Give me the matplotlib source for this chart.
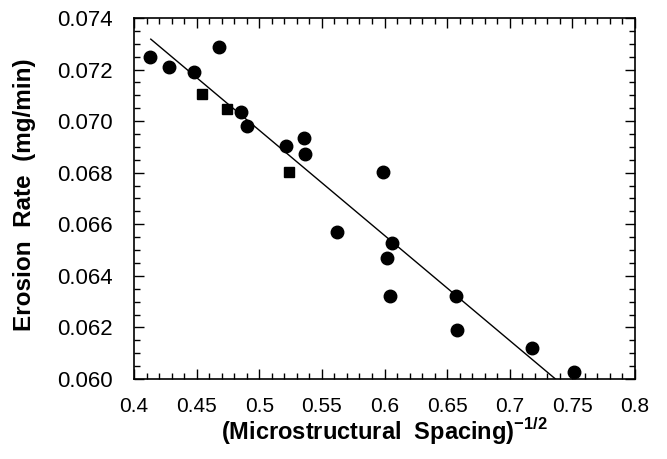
import matplotlib
matplotlib.use("Agg")
import matplotlib.pyplot as plt
from matplotlib.ticker import MultipleLocator, FixedFormatter, FixedLocator

plt.rcParams['font.family'] = ['Liberation Sans', 'DejaVu Sans']
plt.rcParams['mathtext.fontset'] = 'custom'
plt.rcParams['mathtext.rm'] = 'Liberation Sans'
plt.rcParams['mathtext.bf'] = 'Liberation Sans:bold'

# circle data
circ_x = [0.4129, 0.4276, 0.4479, 0.4677, 0.4851, 0.4905, 0.5213, 0.5357, 0.5363,
          0.5989, 0.5620, 0.6062, 0.6022, 0.6043, 0.6570, 0.6578, 0.7181, 0.7516]
circ_y = [0.07248, 0.07211, 0.07189, 0.07288, 0.07034, 0.06982, 0.06905, 0.06935, 0.06874,
          0.06803, 0.06570, 0.06529, 0.06471, 0.06320, 0.06320, 0.06191, 0.06119, 0.06028]
# square data
sq_x = [0.4544, 0.4745, 0.5234]
sq_y = [0.07105, 0.07047, 0.06803]
# fitted line
fit_x = [0.4134, 0.7365]
fit_y = [0.07318, 0.0600]

x_ticks = [0.4, 0.45, 0.5, 0.55, 0.6, 0.65, 0.7, 0.75, 0.8]
x_labels = ['0.4', '0.45', '0.5', '0.55', '0.6', '0.65', '0.7', '0.75', '0.8']
y_ticks = [0.060, 0.062, 0.064, 0.066, 0.068, 0.070, 0.072, 0.074]
y_labels = ['0.060', '0.062', '0.064', '0.066', '0.068', '0.070', '0.072', '0.074']

fig = plt.figure(figsize=(6.67, 4.59), dpi=100)
ax = fig.add_axes([134/667, 1-379/459, 501/667, 361/459])

ax.plot(fit_x, fit_y, color='black', lw=1.0, zorder=2)
ax.plot(circ_x, circ_y, 'o', color='black', ms=9, zorder=3)
ax.plot(sq_x, sq_y, 's', color='black', ms=7.8, zorder=3)

ax.set_xlim(0.4, 0.8)
ax.set_ylim(0.060, 0.074)
ax.xaxis.set_major_locator(FixedLocator(x_ticks))
ax.xaxis.set_major_formatter(FixedFormatter(x_labels))
ax.yaxis.set_major_locator(FixedLocator(y_ticks))
ax.yaxis.set_major_formatter(FixedFormatter(y_labels))
ax.xaxis.set_minor_locator(MultipleLocator(0.01))
ax.yaxis.set_minor_locator(MultipleLocator(0.0005))
ax.tick_params(which='both', direction='in', top=True, right=True, width=1)
ax.tick_params(which='major', length=7)
ax.tick_params(which='minor', length=4)
ax.tick_params(axis='x', which='major', labelsize=15, pad=13)
ax.tick_params(axis='y', which='major', labelsize=16, pad=15)
for s in ax.spines.values():
    s.set_linewidth(1.2)

ax.set_xlabel(r'(Microstructural  Spacing)$^{\mathbf{-1/2}}$', fontsize=17, fontweight='bold', labelpad=0)
ax.set_ylabel('Erosion  Rate  (mg/min)', fontsize=17.5, fontweight='bold')
ax.yaxis.set_label_coords(-(134 - 36) / 501, 0.51)

fig.savefig('out.png', dpi=100)
